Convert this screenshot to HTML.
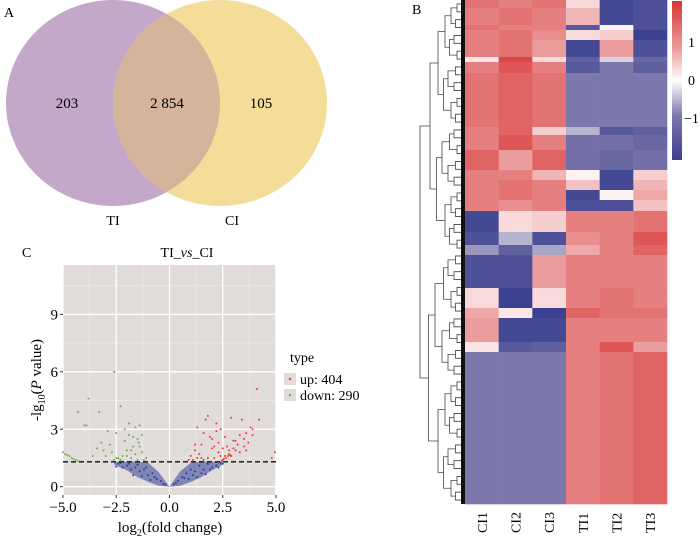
<!DOCTYPE html>
<html><head><meta charset="utf-8">
<style>
html,body{margin:0;padding:0;background:#fff;}
svg{display:block;font-family:"Liberation Serif",serif;}
</style></head>
<body>
<svg id="fig" width="700" height="537" viewBox="0 0 700 537">
  <g>
    <text x="4" y="17" font-size="14">A</text>
    <defs><clipPath id="clipL"><ellipse cx="113" cy="103" rx="107" ry="103"/></clipPath></defs>
    <ellipse cx="113" cy="103" rx="107" ry="103" fill="#c4a8ca"/>
    <ellipse cx="220" cy="103" rx="107" ry="103" fill="#f3dd98"/>
    <ellipse cx="220" cy="103" rx="107" ry="103" fill="#d4b59b" clip-path="url(#clipL)"/>
    <text x="67" y="108" font-size="15" text-anchor="middle">203</text>
    <text x="167" y="108" font-size="15" text-anchor="middle">2 854</text>
    <text x="261" y="108" font-size="15" text-anchor="middle">105</text>
    <text x="113" y="225" font-size="14" text-anchor="middle">TI</text>
    <text x="232" y="225" font-size="14" text-anchor="middle">CI</text>
  </g>
  <g id="volc">
    <text x="22" y="257" font-size="14">C</text>
    <text x="187" y="257" font-size="14" text-anchor="middle">TI_<tspan font-style="italic">vs</tspan>_CI</text>
    <text transform="translate(41,380) rotate(-90)" font-size="15" text-anchor="middle">-lg<tspan font-size="10" dy="4">10</tspan><tspan dy="-4">(</tspan><tspan font-style="italic">P</tspan> value)</text>
    <text x="170" y="532" font-size="15" text-anchor="middle">log<tspan font-size="10" dy="4">2</tspan><tspan dy="-4">(fold change)</tspan></text>
    <g>
      <text x="290" y="362" font-size="14">type</text>
      <rect x="284" y="373" width="12" height="12" fill="#e1dcd9"/>
      <circle cx="290" cy="379" r="1.2" fill="#e83b3b"/>
      <text x="300" y="384" font-size="14">up: 404</text>
      <rect x="284" y="389" width="12" height="12" fill="#e1dcd9"/>
      <circle cx="290" cy="395" r="1.2" fill="#6ab04a"/>
      <text x="300" y="400" font-size="14">down: 290</text>
    </g>
  </g>
  <g id="heat">
    <text x="412" y="14" font-size="14">B</text>
  </g>
</svg>
<script>
const NS='http://www.w3.org/2000/svg';
function mk(tag,attrs,parent){const e=document.createElementNS(NS,tag);for(const k in attrs)e.setAttribute(k,attrs[k]);parent.appendChild(e);return e;}

const xTicks=[-5.0,-2.5,0.0,2.5,5.0];
const xTickLabels=['\u22125.0','\u22122.5','0.0','2.5','5.0'];
const yTicks=[0,3,6,9];
const yTickLabels=['0','3','6','9'];
const thresholdY=1.3;
const upX=[1.0,1.2,1.3,1.5,1.6,1.7,1.8,1.9,2.0,2.1,2.2,2.3,2.4,2.5,2.6,2.7,2.8,2.9,3.0,3.1,3.2,3.3,3.4,3.5,3.6,3.7,3.8,3.9,4.1,4.2,4.8,4.95,1.4,1.1,2.0,2.3,2.5,2.8,3.0,1.6,1.8,2.9,3.3,1.2,2.6,0.9,1.5,2.1,2.4,3.1,3.5,3.6,3.9,1.3,2.2,2.45,2.55,2.65,2.75,2.85];
const upY=[1.6,1.9,1.5,2.2,1.4,3.5,3.7,2.6,2.0,1.5,2.9,1.8,3.0,1.4,1.6,2.1,1.7,3.6,2.4,1.9,2.2,2.7,3.5,2.5,2.8,2.3,3.1,3.0,5.1,3.5,1.5,1.8,1.7,1.4,2.5,2.3,2.0,1.9,2.0,2.8,1.5,1.6,1.8,2.2,2.6,1.4,1.5,2.1,1.6,2.4,2.1,1.9,2.7,3.1,3.3,1.35,1.45,1.5,1.6,1.65];
const downX=[-4.3,-3.8,-3.9,-4.0,-2.6,-2.3,-3.3,-3.2,-2.9,-2.5,-2.1,-1.9,-1.6,-1.4,-1.5,-1.7,-2.0,-2.2,-2.4,-2.7,-3.0,-1.3,-1.2,-1.8,-1.6,-2.1,-2.8,-3.4,-1.4,-1.9,-1.5,-2.3,-1.1,-1.7,-2.6,-3.1,-3.6,-1.3,-2.0,-5.0,-4.9,-4.8,-4.7,-4.6,-4.5,-4.4,-4.3,-2.5,-1.8,-1.45];
const downY=[3.9,4.6,3.2,3.2,6.0,4.2,3.9,2.3,2.9,2.8,3.0,3.3,3.1,3.2,2.5,2.1,1.9,1.6,1.5,1.8,1.6,1.8,1.4,1.5,1.7,2.4,2.2,2.0,2.1,2.7,1.4,1.4,1.5,2.6,1.4,1.9,1.6,2.7,1.6,1.8,1.7,1.65,1.6,1.5,1.45,1.4,1.35,1.5,1.9,2.3];
const nsEnvX=[-2.6,-2.0,-1.5,-1.0,-0.5,0,0.5,1.0,1.5,2.0,2.5,2.5,2.0,1.5,1.0,0.5,0,-0.5,-1.0,-1.5,-2.0,-2.6];
const nsEnvY=[1.3,1.3,1.3,1.25,0.75,0,0.8,1.25,1.3,1.3,1.3,1.15,0.85,0.5,0.25,0.05,0,0.05,0.25,0.5,0.85,1.15];
const nsX=[-2.4,-2.2,-2.0,-1.8,-1.6,-1.4,-1.2,-1.0,-0.8,-0.6,-0.4,-0.2,0.2,0.4,0.6,0.8,1.0,1.2,1.4,1.6,1.8,2.0,2.2,2.4,-2.3,-1.9,-1.5,-1.1,-0.7,-0.3,0.3,0.7,1.1,1.5,1.9,2.3,-2.5,-1.7,-1.3,-0.9,0.9,1.3,1.7,2.5];
const nsY=[1.2,1.0,1.1,0.9,1.0,0.8,0.9,0.6,0.7,0.4,0.3,0.1,0.12,0.3,0.5,0.7,0.9,0.8,1.1,0.9,1.2,1.0,1.1,1.25,1.25,1.2,1.15,1.0,0.5,0.15,0.2,0.45,0.6,0.7,0.9,1.0,1.05,0.6,0.55,0.35,0.4,0.5,0.65,1.2];

const PX0=63,PX1=276,PY0=265,PY1=495;
const sx=v=>PX0+(v+5)/10*(PX1-PX0);
const sy=v=>486.7-v*19.15;
const volc=document.getElementById('volc');
const panel=mk('rect',{x:PX0,y:PY0,width:PX1-PX0,height:PY1-PY0,fill:'#e1dcd9'},volc);


[-3.75,-1.25,1.25,3.75].forEach(v=>mk('line',{x1:sx(v),x2:sx(v),y1:PY0,y2:PY1,stroke:'#f0eeec','stroke-width':0.6},volc));
[1.5,4.5,7.5,10.5].forEach(v=>mk('line',{x1:PX0,x2:PX1,y1:sy(v),y2:sy(v),stroke:'#f0eeec','stroke-width':0.6},volc));
xTicks.forEach((v,i)=>{
  const g=mk('line',{x1:sx(v),x2:sx(v),y1:PY0,y2:PY1,stroke:'#fff','stroke-width':1.3},volc);
  
  
  mk('line',{x1:sx(v),x2:sx(v),y1:PY1,y2:PY1+3,stroke:'#333'},volc);
  const t=mk('text',{x:sx(v),y:PY1+17,'font-size':15,'text-anchor':'middle'},volc);
  t.textContent=xTickLabels[i];
  
  
});
yTicks.forEach((v,i)=>{
  const g=mk('line',{x1:PX0,x2:PX1,y1:sy(v),y2:sy(v),stroke:'#fff','stroke-width':1.3},volc);
  
  
  mk('line',{x1:PX0-3,x2:PX0,y1:sy(v),y2:sy(v),stroke:'#333'},volc);
  const t=mk('text',{x:PX0-5,y:sy(v)+5,'font-size':15,'text-anchor':'end'},volc);
  t.textContent=yTickLabels[i];
  
  
});
const env=mk('polygon',{points:nsEnvX.map((x,i)=>sx(x)+','+sy(nsEnvY[i])).join(' '),fill:'#5561a6','fill-opacity':0.7},volc);


nsX.forEach((x,i)=>{const c=mk('circle',{cx:sx(x),cy:sy(nsY[i]),r:1,fill:'#2f3d92'},volc);
  
  });
upX.forEach((x,i)=>{const c=mk('circle',{cx:sx(x),cy:sy(upY[i]),r:1,fill:'#ea3a3a'},volc);
  
  });
downX.forEach((x,i)=>{const c=mk('circle',{cx:sx(x),cy:sy(downY[i]),r:1,fill:'#6cb04a'},volc);
  
  });
const th=mk('line',{x1:PX0,x2:PX1,y1:sy(thresholdY),y2:sy(thresholdY),stroke:'#111','stroke-width':1.3,'stroke-dasharray':'5,3'},volc);



const sampleLabels=['CI1','CI2','CI3','TI1','TI2','TI3'];
const segRows=[8,17,5,10,17,5,11,54,8,15,20,10,10,10,11,21,13,10,33,20,10,24,10,152];
const zCI1=[1.1,1.0,1.1,1.0,1.0,0.2,1.0,1.1,1.0,1.0,1.2,1.0,1.0,1.0,1.0,-1.5,-1.4,-0.7,-1.4,0.3,0.7,0.8,0.2,-0.9];
const zCI2=[1.0,1.1,1.0,1.1,1.1,1.4,1.3,1.2,1.2,1.3,0.8,1.0,1.1,1.1,0.9,0.3,-0.5,-1.2,-1.4,-1.6,0.2,-1.5,-1.3,-0.9];
const zCI3=[1.1,1.0,1.0,0.9,0.8,0.3,1.0,1.1,0.4,1.0,1.2,0.6,1.0,1.0,1.0,0.4,-1.4,-0.6,0.8,0.3,-1.6,-1.5,-1.2,-0.9];
const zTI1=[0.3,0.6,-1.3,0.3,-1.5,-1.2,-1.3,-0.9,-0.5,-1.0,-1.0,0.1,0.5,-1.5,-1.4,1.0,0.9,0.7,1.0,1.0,1.2,1.0,1.0,1.0];
const zTI2=[-1.5,-1.5,0.1,0.4,0.8,-0.3,-0.9,-0.9,-1.3,-1.0,-1.1,-1.5,-1.5,0.1,-1.4,1.0,1.0,1.0,1.0,1.1,1.1,1.0,1.3,1.1];
const zTI3=[-1.4,-1.4,-1.4,-1.6,-1.4,-1.1,-1.2,-0.9,-1.2,-1.1,-1.0,0.4,0.6,0.7,0.5,1.1,1.3,1.2,1.0,1.0,1.1,1.0,0.8,1.2];
const colorbarTicks=[1,0,-1];
const colorbarLabels=['1','0','\u22121'];

const stops=[[-1.6,[59,65,144]],[-0.9,[125,120,171]],[0,[255,255,255]],[0.8,[235,156,156]],[1.5,[217,58,58]]];
function zcol(z){
  if(z<=stops[0][0])return 'rgb('+stops[0][1]+')';
  for(let i=1;i<stops.length;i++){if(z<=stops[i][0]){const a=stops[i-1],b=stops[i],t=(z-a[0])/(b[0]-a[0]);
    return 'rgb('+a[1].map((c,k)=>Math.round(c+(b[1][k]-c)*t)).join(',')+')';}}
  return 'rgb('+stops[stops.length-1][1]+')';
}
const heat=document.getElementById('heat');
const HX0=465,HX1=667,HY0=0,HY1=504;
const totalRows=segRows.reduce((a,b)=>a+b,0);
const colW=(HX1-HX0)/6;
const hy=r=>HY0+r/totalRows*(HY1-HY0);
const cols=[zCI1,zCI2,zCI3,zTI1,zTI2,zTI3];
cols.forEach((arr,ci)=>{
  let r=0;
  arr.forEach((z,si)=>{
    const c=mk('rect',{x:HX0+ci*colW,y:hy(r),width:colW+0.3,height:hy(r+segRows[si])-hy(r)+0.3,fill:zcol(z)},heat);
    
    
    r+=segRows[si];
  });
  const t=mk('text',{transform:'translate('+(HX0+(ci+0.5)*colW+5)+',533) rotate(-90)','font-size':14},heat);
  t.textContent=sampleLabels[ci];
  
  
});
/* dendrogram (decorative) */
const dg=mk('g',{stroke:'#444','stroke-width':0.8,fill:'none'},heat);


let nodes=[];
for(let i=0;i<64;i++)nodes.push({y:(i+0.5)*504/64,x:463});
let lvl=0;const lvlX=[457,451,445,438,430,420,415];
while(nodes.length>1){
  const nx=[];
  for(let i=0;i<nodes.length;i+=2){
    const a=nodes[i],b=nodes[i+1]||nodes[i];
    const x=lvlX[lvl]-((i/2)%3)*1.5;
    mk('path',{d:'M'+a.x+' '+a.y+' H'+x+' V'+b.y+' H'+b.x},dg);
    nx.push({y:(a.y+b.y)/2,x:x});
  }
  nodes=nx;lvl++;
}
mk('rect',{x:461,y:0,width:4,height:504,fill:'#111',stroke:'none'},dg);
/* colorbar */
const defs=mk('defs',{},heat);
const lg=mk('linearGradient',{id:'cb',x1:0,y1:0,x2:0,y2:1},defs);
[[0,'#d93535'],[0.3,'#eb9c9c'],[0.5,'#ffffff'],[0.72,'#7d78ab'],[1,'#3b4190']].forEach(([o,c])=>mk('stop',{offset:o,'stop-color':c},lg));
const cb=mk('rect',{x:672,y:1,width:10,height:159,fill:'url(#cb)'},heat);


const cbY=v=>80-v*38;
colorbarTicks.forEach((v,i)=>{const t=mk('text',{x:v<0?684:688,y:cbY(v)+5,'font-size':14},heat);
  t.textContent=colorbarLabels[i];
  
  });
</script>
</body></html>
